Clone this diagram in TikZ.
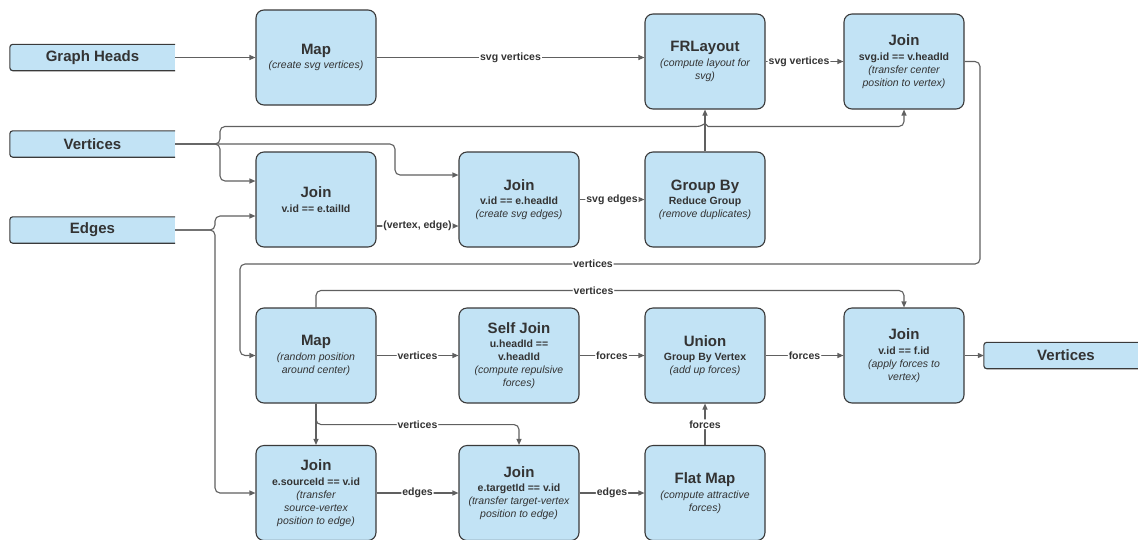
\documentclass[tikz,border=0pt]{standalone}
\usepackage{fontspec}
\setmainfont{Liberation Sans}
\usetikzlibrary{arrows.meta,calc}

\definecolor{boxfill}{RGB}{194,227,245}
\definecolor{boxline}{RGB}{58,58,58}
\definecolor{wire}{RGB}{96,96,96}
\definecolor{ink}{RGB}{51,51,51}

% title, condition and note lines inside an operator box
\newcommand\optitle[1]{{\fontsize{15}{13}\selectfont\bfseries #1}}
\newcommand\opcond[1]{{\bfseries #1}}
\newcommand\opnote[1]{{\itshape #1}}

\tikzset{
  op/.style={rectangle, rounded corners=8pt, draw=boxline, fill=boxfill,
    line width=1.1pt, minimum width=120pt, minimum height=95pt,
    align=center, inner sep=0pt, text=ink,
    font=\fontsize{10.5}{13}\selectfont},
  io/.style={rectangle, fill=boxfill, minimum height=26pt, inner sep=0pt,
    text=ink, font=\fontsize{15}{18}\selectfont\bfseries},
  ioedge/.style={draw=boxline, line width=1.1pt, rounded corners=3pt},
  conn/.style={draw=wire, line width=1.1pt, rounded corners=5pt,
    -{Triangle[length=6pt,width=5pt]}},
  lbl/.style={fill=white, inner sep=1pt, text=ink,
    font=\fontsize{10.5}{12}\selectfont\bfseries},
}

\begin{document}
\begin{tikzpicture}[x=1pt, y=-1pt]
\useasboundingbox (0,0) rectangle (1138,539);

% data sources and sink
\node[io, minimum width=165pt] (gh)   at (92.5,57.5) {Graph Heads};
\node[io, minimum width=165pt] (vin)  at (92.5,144)  {Vertices};
\node[io, minimum width=165pt] (ein)  at (92.5,230)  {Edges};
\node[io, minimum width=164pt] (vout) at (1066,355.5) {Vertices};
\foreach \n in {gh,vin,ein,vout}
  \draw[ioedge] (\n.north east) -- (\n.north west) -- (\n.south west) -- (\n.south east);

% operators
\node[op] (map1) at (316,57.5) {\optitle{Map}\\[1.3pt]\opnote{(create svg vertices)}};
\node[op] (frl)  at (705,61.5) {\optitle{FRLayout}\\[1.3pt]\opnote{(compute layout for}\\\opnote{svg)}};
\node[op] (jsvg) at (904,61.5) {\optitle{Join}\\[1.3pt]\opcond{svg.id == v.headId}\\\opnote{(transfer center}\\\opnote{position to vertex)}};

\node[op] (jt)  at (316,199.5) {\optitle{Join}\\[1.3pt]\opcond{v.id == e.tailId}};
\node[op] (jh)  at (519,199.5) {\optitle{Join}\\[1.3pt]\opcond{v.id == e.headId}\\\opnote{(create svg edges)}};
\node[op] (grp) at (705,199.5) {\optitle{Group By}\\[1.3pt]\opcond{Reduce Group}\\\opnote{(remove duplicates)}};

\node[op] (map2) at (316,355.5) {\optitle{Map}\\[1.3pt]\opnote{(random position}\\\opnote{around center)}};
\node[op] (self) at (519,355.5) {\optitle{Self Join}\\[1.3pt]\opcond{u.headId ==}\\\opcond{v.headId}\\\opnote{(compute repulsive}\\\opnote{forces)}};
\node[op] (uni)  at (705,355.5) {\optitle{Union}\\[1.3pt]\opcond{Group By Vertex}\\\opnote{(add up forces)}};
\node[op] (jf)   at (904,355.5) {\optitle{Join}\\[1.3pt]\opcond{v.id == f.id}\\\opnote{(apply forces to}\\\opnote{vertex)}};

\node[op] (js)  at (316,493) {\optitle{Join}\\[1.3pt]\opcond{e.sourceId == v.id}\\\opnote{(transfer}\\\opnote{source-vertex}\\\opnote{position to edge)}};
\node[op] (jtg) at (519,493) {\optitle{Join}\\[1.3pt]\opcond{e.targetId == v.id}\\\opnote{(transfer target-vertex}\\\opnote{position to edge)}};
\node[op] (fm)  at (705,493) {\optitle{Flat Map}\\[1.3pt]\opnote{(compute attractive}\\\opnote{forces)}};

% routing points
\coordinate (vsplit) at (220,144);
\coordinate (vdrop)  at (395,144);
\coordinate (esplit) at (215,230);
\coordinate (hop)    at ($(grp.north)+(0,-25)$);
\coordinate (loopR)  at (980,264);
\coordinate (loopL)  at (240,264);

% layout of the graph heads
\draw[conn] (gh.east) -- (map1.west);
\draw[conn] (map1.east) -- node[lbl]{svg vertices} (map1.east -| frl.west);
\draw[conn] (frl.east) -- node[lbl, pos=0.43]{svg vertices} (jsvg.west);

% vertices input fan-out (hopping over the Group By -> FRLayout line)
\draw[conn] (vin.east) -- (vsplit) |- ($(hop)+(-3,0)$)
  [sharp corners] -- ($(hop)+(0,-3)$) -- ($(hop)+(3,0)$)
  [rounded corners=5pt] -| (jsvg.south);
\draw[conn] (vin.east) -- (vsplit) |- ($(jt.west)+(0,-18.5)$);
\draw[conn] (vin.east) -- (vdrop) |- ($(jh.west)+(0,-24.5)$);

% edges input fan-out
\draw[conn] (ein.east) -- (esplit) |- ($(jt.west)+(0,16.5)$);
\draw[conn] (ein.east) -- (esplit) |- (js.west);

% svg edges
\draw[conn] ($(jt.east)+(0,26.5)$) -- node[lbl]{(vertex, edge)} ($(jh.west)+(0,26.5)$);
\draw[conn] (jh.east) -- node[lbl]{svg edges} (grp.west);
\draw[conn] (grp.north) -- (frl.south);

% placed vertices back into the force loop
\draw[conn] (jsvg.east) -| (loopR) -- node[lbl, pos=0.523]{vertices} (loopL) |- (map2.west);
\draw[conn] (map2.north) -- ++(0,-17) -| node[lbl, pos=0.236]{vertices} (jf.north);
\draw[conn] (map2.east) -- node[lbl]{vertices} (self.west);
\draw[conn] (self.east) -- node[lbl]{forces} (uni.west);
\draw[conn] (uni.east) -- node[lbl]{forces} (jf.west);
\draw[conn] (jf.east) -- (vout.west);

% attractive forces along edges
\draw[conn] (map2.south) -- (js.north);
\draw[conn] (map2.south) -- ++(0,21) -| node[lbl, pos=0.25]{vertices} (jtg.north);
\draw[conn] (js.east) -- node[lbl]{edges} (jtg.west);
\draw[conn] (jtg.east) -- node[lbl]{edges} (fm.west);
\draw[conn] (fm.north) -- node[lbl]{forces} (uni.south);
\end{tikzpicture}
\end{document}
